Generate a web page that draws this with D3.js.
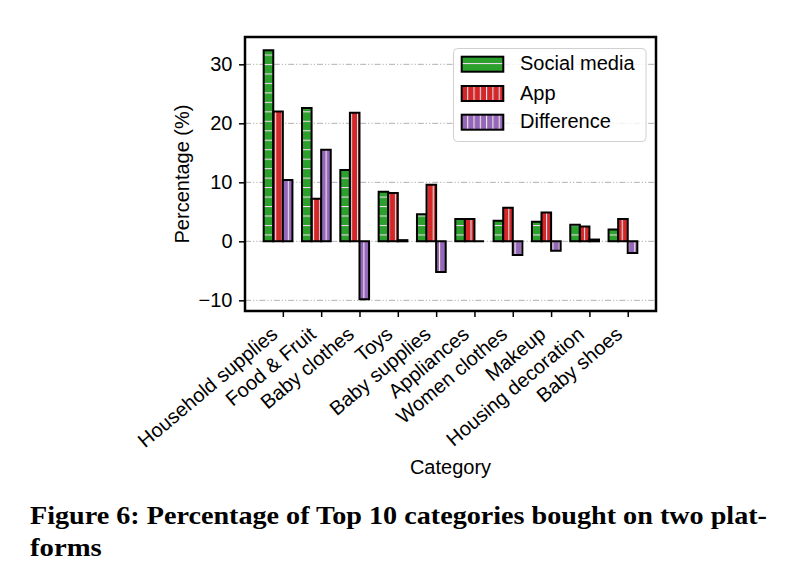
<!DOCTYPE html>
<html>
<head>
<meta charset="utf-8">
<script src="https://cdn.jsdelivr.net/npm/d3@7"></script>
<style>
  html, body { margin: 0; padding: 0; background: #fff; }
  svg { display: block; }
  text { font-family: "Liberation Sans", Arial, Helvetica, sans-serif; }
  text.caption { font-family: "Liberation Serif", "Times New Roman", serif; font-weight: bold; }
</style>
</head>
<body>
<svg id="chart" width="786" height="565"></svg>
<script>
// ---- data ----
const categories = ["Household supplies", "Food & Fruit", "Baby clothes", "Toys", "Baby supplies",
                    "Appliances", "Women clothes", "Makeup", "Housing decoration", "Baby shoes"];
const socialMedia = [32.4, 22.6, 12.1, 8.4, 4.6, 3.8, 3.5, 3.3, 2.8, 2.0];
const appValues   = [22.0, 7.2, 21.8, 8.2, 9.6, 3.8, 5.7, 4.9, 2.5, 3.8];
const difference  = [10.4, 15.5, -9.8, 0.2, -5.2, 0.0, -2.3, -1.6, 0.3, -2.0];
const seriesNames = ["Social media", "App", "Difference"];
const yTicks = [-10, 0, 10, 20, 30];
const captionLines = ["Figure 6: Percentage of Top 10 categories bought on two plat-", "forms"];

// ---- layout ----
const svg = d3.select("#chart");
const plot = { left: 245, right: 656, top: 37, bottom: 311 };
const barW = 0.25;
const x = d3.scaleLinear().domain([-0.9875, 9.7375]).range([plot.left, plot.right]);
const y = d3.scaleLinear().domain([-11.81, 34.63]).range([plot.bottom, plot.top]);

const series = [
  { name: seriesNames[0], values: socialMedia, color: "#2ca02c", hatch: "h", hcolor: "#f2dcf2", off: -0.5 },
  { name: seriesNames[1], values: appValues,   color: "#d62728", hatch: "v", hcolor: "#d8f0f8", off: -0.25 },
  { name: seriesNames[2], values: difference,  color: "#9467bd", hatch: "v", hcolor: "#f2f2d4", off: 0 }
];

// ---- patterns ----
const defs = svg.append("defs");
function makePattern(id, s, ox, oy) {
  const hor = s.hatch === "h";
  const sp = hor ? 9.47 : 6.3;
  const p = defs.append("pattern").attr("id", id)
    .attr("patternUnits", "userSpaceOnUse")
    .attr("x", ox).attr("y", oy)
    .attr("width", hor ? 20 : sp).attr("height", hor ? sp : 20);
  p.append("rect").attr("width", hor ? 20 : sp).attr("height", hor ? sp : 20).attr("fill", s.color);
  if (hor) p.append("line").attr("x1", 0).attr("x2", 20).attr("y1", 0.5).attr("y2", 0.5)
            .attr("stroke", s.hcolor).attr("stroke-width", 1.1);
  else p.append("line").attr("y1", 0).attr("y2", 20).attr("x1", 0.5).attr("x2", 0.5)
            .attr("stroke", s.hcolor).attr("stroke-width", 1.1);
}
series.forEach((s, i) => {
  makePattern("pat" + i, s, 275.2, 54.5);
  makePattern("leg" + i, s, 467.2, 63);
});

// ---- grid ----
svg.append("g").selectAll("line").data(yTicks).join("line")
  .attr("x1", plot.left).attr("x2", plot.right)
  .attr("y1", d => y(d)).attr("y2", d => y(d))
  .attr("stroke", "#b0b0b0").attr("stroke-width", 1)
  .attr("stroke-dasharray", "6,2,1.2,2,1.2,2");

// ---- bars ----
series.forEach((s, i) => {
  svg.append("g").selectAll("path").data(s.values).join("path")
    .attr("d", (v, j) => {
      const x0 = x(j + s.off), x1 = x(j + s.off + barW);
      const y0 = y(0), y1 = y(v);
      return `M${x0},${y0}H${x1}V${y1}H${x0}Z`;
    })
    .attr("fill", `url(#pat${i})`)
    .attr("stroke", "#000").attr("stroke-width", 2).attr("stroke-linejoin", "miter");
});

// ---- axes ----
const yAxis = d3.axisLeft(y).tickValues(yTicks).tickSize(6).tickPadding(5)
  .tickFormat(d => d < 0 ? "\u2212" + Math.abs(d) : d);
const gy = svg.append("g").attr("transform", `translate(${plot.left},0)`).call(yAxis);
gy.select(".domain").remove();
gy.selectAll(".tick line").attr("stroke", "#000").attr("stroke-width", 1.5);
gy.selectAll(".tick text").attr("font-size", 20).attr("fill", "#000").attr("x", -12.5);

const xAxis = d3.axisBottom(x).tickValues(d3.range(categories.length)).tickSize(6)
  .tickFormat(i => categories[i]);
const gx = svg.append("g").attr("transform", `translate(0,${plot.bottom})`).call(xAxis);
gx.select(".domain").remove();
gx.selectAll(".tick line").attr("stroke", "#000").attr("stroke-width", 1.5);
gx.selectAll(".tick text")
  .attr("font-size", 20).attr("fill", "#000")
  .attr("text-anchor", "end")
  .attr("x", 0).attr("y", 0).attr("dy", "0.35em")
  .attr("transform", "translate(-9,20) rotate(-40)");

// ---- frame ----
svg.append("rect")
  .attr("x", plot.left).attr("y", plot.top)
  .attr("width", plot.right - plot.left).attr("height", plot.bottom - plot.top)
  .attr("fill", "none").attr("stroke", "#000").attr("stroke-width", 2.5);

// ---- axis labels ----
svg.append("text").text("Category")
  .attr("x", (plot.left + plot.right) / 2).attr("y", 474)
  .attr("text-anchor", "middle").attr("font-size", 20).attr("fill", "#000");
svg.append("text").text("Percentage (%)")
  .attr("transform", `translate(188.5,${(plot.top + plot.bottom) / 2}) rotate(-90)`)
  .attr("text-anchor", "middle").attr("font-size", 20).attr("fill", "#000");

// ---- legend ----
const leg = svg.append("g");
leg.append("rect").attr("x", 453.5).attr("y", 48.5).attr("width", 192.5).attr("height", 93)
  .attr("rx", 4).attr("fill", "#fff").attr("fill-opacity", 0.8)
  .attr("stroke", "#d0d0d0").attr("stroke-width", 1);
const legY = [56.7, 86, 114.7];
series.forEach((s, i) => {
  leg.append("rect").attr("x", 461.7).attr("y", legY[i]).attr("width", 41.6).attr("height", 15)
    .attr("fill", `url(#leg${i})`).attr("stroke", "#000").attr("stroke-width", 2);
  leg.append("text").text(s.name).attr("x", 520).attr("y", legY[i] + 13.5)
    .attr("font-size", 20).attr("fill", "#000");
});

// ---- caption ----
svg.append("text").attr("class", "caption").text(captionLines[0])
  .attr("x", 30).attr("y", 524.3).attr("font-size", 26)
  .attr("textLength", 737).attr("lengthAdjust", "spacingAndGlyphs").attr("fill", "#000");
svg.append("text").attr("class", "caption").text(captionLines[1])
  .attr("x", 30).attr("y", 555.7).attr("font-size", 26)
  .attr("textLength", 71.7).attr("lengthAdjust", "spacingAndGlyphs").attr("fill", "#000");
</script>
</body>
</html>
